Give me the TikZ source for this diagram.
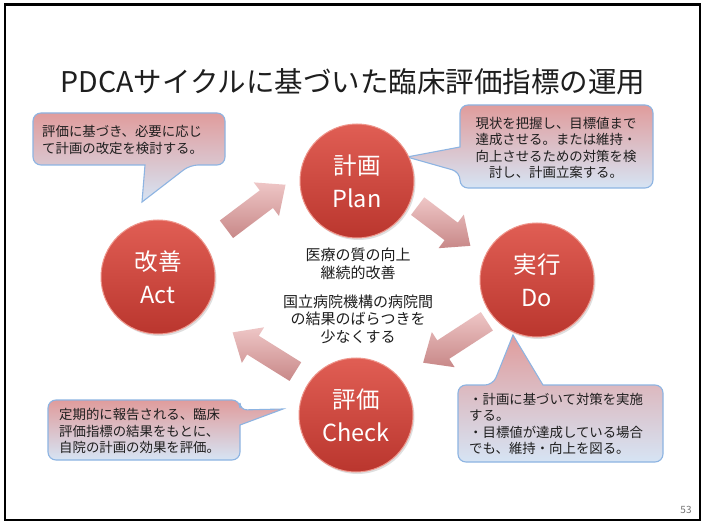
\documentclass[tikz,border=0pt]{standalone}
\usepackage{fontspec}
\setmainfont{Noto Sans CJK JP}
\usetikzlibrary{shadows}
\definecolor{ctop}{RGB}{224,156,156}
\definecolor{cbot}{RGB}{214,228,244}
\definecolor{cline}{RGB}{141,180,226}
\definecolor{rtop}{RGB}{224,94,84}
\definecolor{rbot}{RGB}{186,54,46}
\definecolor{rrim}{RGB}{238,150,140}
\definecolor{atop}{RGB}{238,198,198}
\definecolor{abot}{RGB}{200,136,136}
\definecolor{txt}{RGB}{30,30,30}
\newcommand\bkarrow[5]{%
  \begin{scope}[shift={(#1,#2)},rotate=#3]
    \shade[arrowfill] (-#4/2,-11) -- (#4/2-24,-11) -- (#4/2-24,-21) -- (#4/2,0)
      -- (#4/2-24,21) -- (#4/2-24,11) -- (-#4/2,11) -- cycle;
    \coordinate (#5) at (0,0);
  \end{scope}}
\tikzset{
  phase/.style={circle, minimum size=114pt, inner sep=0pt, draw=rrim, line width=1pt,
    top color=rtop, bottom color=rbot, text=white, align=center,
    font=\fontsize{23.5}{33}\selectfont,
    drop shadow={opacity=0.25, shadow xshift=1.5pt, shadow yshift=-2pt}},
  callout/.style={draw=cline, line width=1.1pt, top color=ctop, bottom color=cbot, rounded corners=8pt},
  ctext/.style={text=txt, font=\fontsize{13.4}{16.5}\selectfont, inner sep=0pt},
  arrowfill/.style={top color=atop, bottom color=abot},
}
\begin{document}
\begin{tikzpicture}[x=1pt,y=-1pt]
\useasboundingbox (0,0) rectangle (705,524);
\fill[white] (0,0) rectangle (705,524);
\draw[black, line width=2.5pt] (5,4.5) rectangle (700,520);

\node[text=txt, font=\fontsize{28.5}{32}\selectfont] (title) at (353,82) {PDCAサイクルに基づいた臨床評価指標の運用};

% block arrows
\bkarrow{256}{207}{37}{74}{a1}
\bkarrow{444}{226}{-37}{66}{a2}
\bkarrow{455}{342}{213}{76}{a3}
\bkarrow{264}{352}{148}{74}{a4}

% callouts
\path[callout] (130,113) -- (225,113) -- (225,165) -- (190,165) [sharp corners] -- (142,202) -- (145,165) [rounded corners=8pt] -- (33,165) -- (33,113) -- cycle;
\path[callout] (560,105) -- (653,105) -- (653,188) -- (460,188) -- (460,172) [sharp corners] -- (407,157) -- (460,147) [rounded corners=8pt] -- (460,105) -- cycle;
\path[callout] (140,400) -- (240,400) [rounded corners=7pt] -- (240,410) [sharp corners] -- (283,409) -- (240,425) [rounded corners=8pt] -- (240,460) -- (48,460) -- (48,400) -- cycle;
\path[callout] (600,385) -- (663,385) -- (663,462) -- (458,462) -- (458,385) -- (493,385) [sharp corners] -- (513,335) -- (543,385) [rounded corners=8pt] -- cycle;

% circles
\node[phase] (plan) at (357,181) {計画\\Plan};
\node[phase] (do) at (537,280) {実行\\Do};
\node[phase] (check) at (356,415) {評価\\Check};
\node[phase] (act) at (158,277) {改善\\Act};

% callout texts
\node[ctext, anchor=west, align=left] (tl) at (42,140) {評価に基づき、必要に応じ\\て計画の改定を検討する。};
\node[ctext, align=center] (tr) at (556,148) {現状を把握し、目標値まで\\達成させる。または維持・\\向上させるための対策を検\\討し、計画立案する。};
\node[ctext, anchor=west, align=left] (bl) at (59,431) {定期的に報告される、臨床\\評価指標の結果をもとに、\\自院の計画の効果を評価。};
\node[ctext, anchor=west, align=left] (br) at (469,424) {・計画に基づいて対策を実施\\する。\\・目標値が達成している場合\\でも、維持・向上を図る。};

% center text
\node[text=txt, font=\fontsize{15}{17.5}\selectfont, align=center] (goal1) at (358,264) {医療の質の向上\\継続的改善};
\node[text=txt, font=\fontsize{15}{17.5}\selectfont, align=center] (goal2) at (358,319) {国立病院機構の病院間\\の結果のばらつきを\\少なくする};

\node[text=black!55, font=\fontsize{10}{12}\selectfont] (pg) at (686,510) {53};
\end{tikzpicture}
\end{document}
